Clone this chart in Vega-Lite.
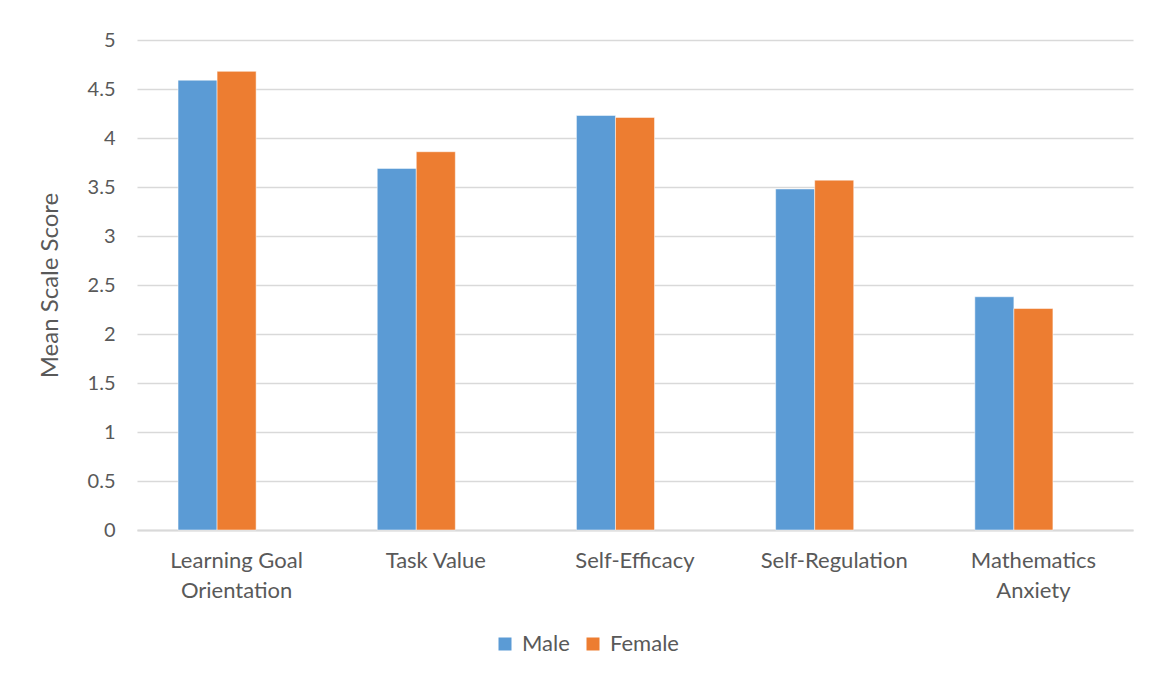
{
  "$schema": "https://vega.github.io/schema/vega-lite/v6.json",
  "autosize": {"type": "none"},
  "width": 996,
  "height": 490,
  "padding": {"left": 137, "top": 40, "right": 22, "bottom": 144},
  "background": "white",
  "config": {
    "font": "Lato",
    "view": {"stroke": null},
    "axis": {"labelFont": "Lato", "titleFont": "Lato", "labelColor": "#595959", "titleColor": "#595959"}
  },
  "data": {
    "values": [
      {"scale": "Learning Goal Orientation", "gender": "Male", "score": 4.59},
      {"scale": "Learning Goal Orientation", "gender": "Female", "score": 4.68},
      {"scale": "Task Value", "gender": "Male", "score": 3.69},
      {"scale": "Task Value", "gender": "Female", "score": 3.86},
      {"scale": "Self-Efficacy", "gender": "Male", "score": 4.23},
      {"scale": "Self-Efficacy", "gender": "Female", "score": 4.21},
      {"scale": "Self-Regulation", "gender": "Male", "score": 3.48},
      {"scale": "Self-Regulation", "gender": "Female", "score": 3.57},
      {"scale": "Mathematics Anxiety", "gender": "Male", "score": 2.38},
      {"scale": "Mathematics Anxiety", "gender": "Female", "score": 2.26}
    ]
  },
  "mark": {"type": "bar", "stroke": "white", "strokeWidth": 0.5},
  "encoding": {
    "x": {
      "field": "scale",
      "type": "nominal",
      "sort": null,
      "scale": {"paddingInner": 0.412, "paddingOuter": 0.206},
      "axis": {
        "title": null,
        "labelAngle": 0,
        "ticks": false,
        "domainColor": "#d9d9d9",
        "domainWidth": 2,
        "labelFontSize": 22,
        "labelPadding": 20,
        "labelLineHeight": 30,
        "labelBaseline": "top",
        "labelExpr": "datum.label == 'Learning Goal Orientation' ? ['Learning Goal', 'Orientation'] : datum.label == 'Mathematics Anxiety' ? ['Mathematics', 'Anxiety'] : datum.label"
      }
    },
    "xOffset": {
      "field": "gender",
      "type": "nominal",
      "scale": {"domain": ["Male", "Female", "_"], "paddingInner": 0, "paddingOuter": 0}
    },
    "y": {
      "field": "score",
      "type": "quantitative",
      "scale": {"domain": [0, 5], "nice": false},
      "axis": {
        "title": "Mean Scale Score",
        "titleFontSize": 24,
        "titleFontWeight": "normal",
        "titleX": -75,
        "titleY": 245,
        "values": [0, 0.5, 1, 1.5, 2, 2.5, 3, 3.5, 4, 4.5, 5],
        "format": "~g",
        "labelFontSize": 20,
        "labelPadding": 22,
        "ticks": false,
        "domain": false,
        "grid": true,
        "gridColor": "#d9d9d9",
        "gridWidth": 1.5
      }
    },
    "color": {
      "field": "gender",
      "type": "nominal",
      "scale": {"domain": ["Male", "Female"], "range": ["#5B9BD5", "#ED7D31"]},
      "legend": {
        "title": null,
        "orient": "none",
        "direction": "horizontal",
        "legendX": 357,
        "legendY": 593,
        "symbolType": "square",
        "symbolSize": 169,
        "symbolStrokeWidth": 0,
        "labelFontSize": 22,
        "labelColor": "#595959",
        "labelFont": "Lato",
        "columnPadding": 12,
        "labelOffset": 6
      }
    }
  }
}
